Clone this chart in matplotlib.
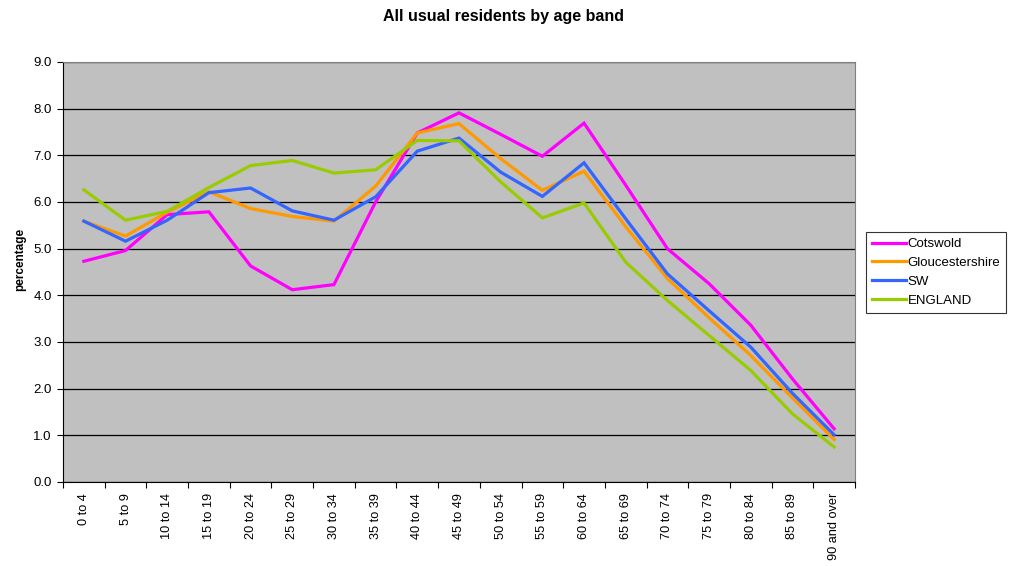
import numpy as np
import matplotlib
matplotlib.use("Agg")
import matplotlib.pyplot as plt

plt.rcParams['font.family'] = ['Liberation Sans', 'DejaVu Sans']

age_bands = ["0 to 4", "5 to 9", "10 to 14", "15 to 19", "20 to 24", "25 to 29",
             "30 to 34", "35 to 39", "40 to 44", "45 to 49", "50 to 54", "55 to 59",
             "60 to 64", "65 to 69", "70 to 74", "75 to 79", "80 to 84", "85 to 89",
             "90 and over"]

cotswold = [4.73, 4.96, 5.73, 5.79, 4.63, 4.12, 4.23, 6.00, 7.48, 7.91, 7.45, 6.98,
            7.69, 6.36, 5.00, 4.25, 3.36, 2.21, 1.14]
gloucestershire = [5.59, 5.27, 5.78, 6.22, 5.86, 5.69, 5.59, 6.34, 7.48, 7.68, 6.93,
                   6.25, 6.66, 5.47, 4.36, 3.52, 2.71, 1.80, 0.91]
sw = [5.59, 5.16, 5.61, 6.20, 6.30, 5.81, 5.61, 6.11, 7.09, 7.37, 6.64, 6.12, 6.84,
      5.64, 4.46, 3.67, 2.89, 1.90, 1.01]
england = [6.26, 5.61, 5.80, 6.31, 6.78, 6.89, 6.62, 6.69, 7.32, 7.31, 6.43, 5.66,
           5.98, 4.71, 3.89, 3.14, 2.39, 1.46, 0.75]

series = [("Cotswold", cotswold, "#FF00FF"),
          ("Gloucestershire", gloucestershire, "#FF9900"),
          ("SW", sw, "#3366FF"),
          ("ENGLAND", england, "#99CC00")]

fig = plt.figure(figsize=(10.13, 5.66), dpi=100)
ax = fig.add_axes([63 / 1013, 1 - 482 / 566, (855 - 63) / 1013, (482 - 62) / 566])
ax.set_facecolor("#C0C0C0")

x = np.arange(len(age_bands))
for name, vals, col in series:
    ax.plot(x, vals, color=col, lw=2.3, label=name, solid_joinstyle="miter")

ax.set_xlim(-0.5, len(age_bands) - 0.5)
ax.set_ylim(0, 9)
ax.set_yticks(np.arange(0, 9.01, 1.0))
ax.set_yticklabels([f"{v:.1f}" for v in np.arange(0, 9.01, 1.0)], fontsize=9.5)
ax.yaxis.grid(True, color="black", lw=0.9)
ax.set_axisbelow(True)

# ticks on category boundaries, labels at centres
ax.set_xticks(np.arange(-0.5, len(age_bands) + 0.5, 1.0))
ax.set_xticklabels([])
ax.set_xticks(x, minor=True)
ax.set_xticklabels(age_bands, minor=True, rotation=90, fontsize=9.2)
ax.tick_params(axis="x", which="minor", length=0, pad=8)
ax.tick_params(axis="x", which="major", length=4, color="black")
ax.tick_params(axis="y", length=4, color="black", pad=4)

for side in ["top", "right"]:
    ax.spines[side].set_color("#808080")
for side in ["left", "bottom"]:
    ax.spines[side].set_color("black")

ax.set_ylabel("percentage", fontsize=8.5, fontweight="bold")
ax.yaxis.set_label_coords(-0.046, 0.53)
fig.suptitle("All usual residents by age band", fontsize=11.5, fontweight="bold",
             x=0.497, y=0.984)

leg = fig.legend(loc="upper left", bbox_to_anchor=(866 / 1013, 1 - 232 / 566),
                 fontsize=9.5, frameon=True, fancybox=False, handlelength=2.6,
                 handletextpad=0.1, borderpad=0.45, labelspacing=0.5, borderaxespad=0)
leg.get_frame().set_edgecolor("black")
leg.get_frame().set_linewidth(0.8)

fig.savefig("out.png", dpi=100, facecolor="white")
